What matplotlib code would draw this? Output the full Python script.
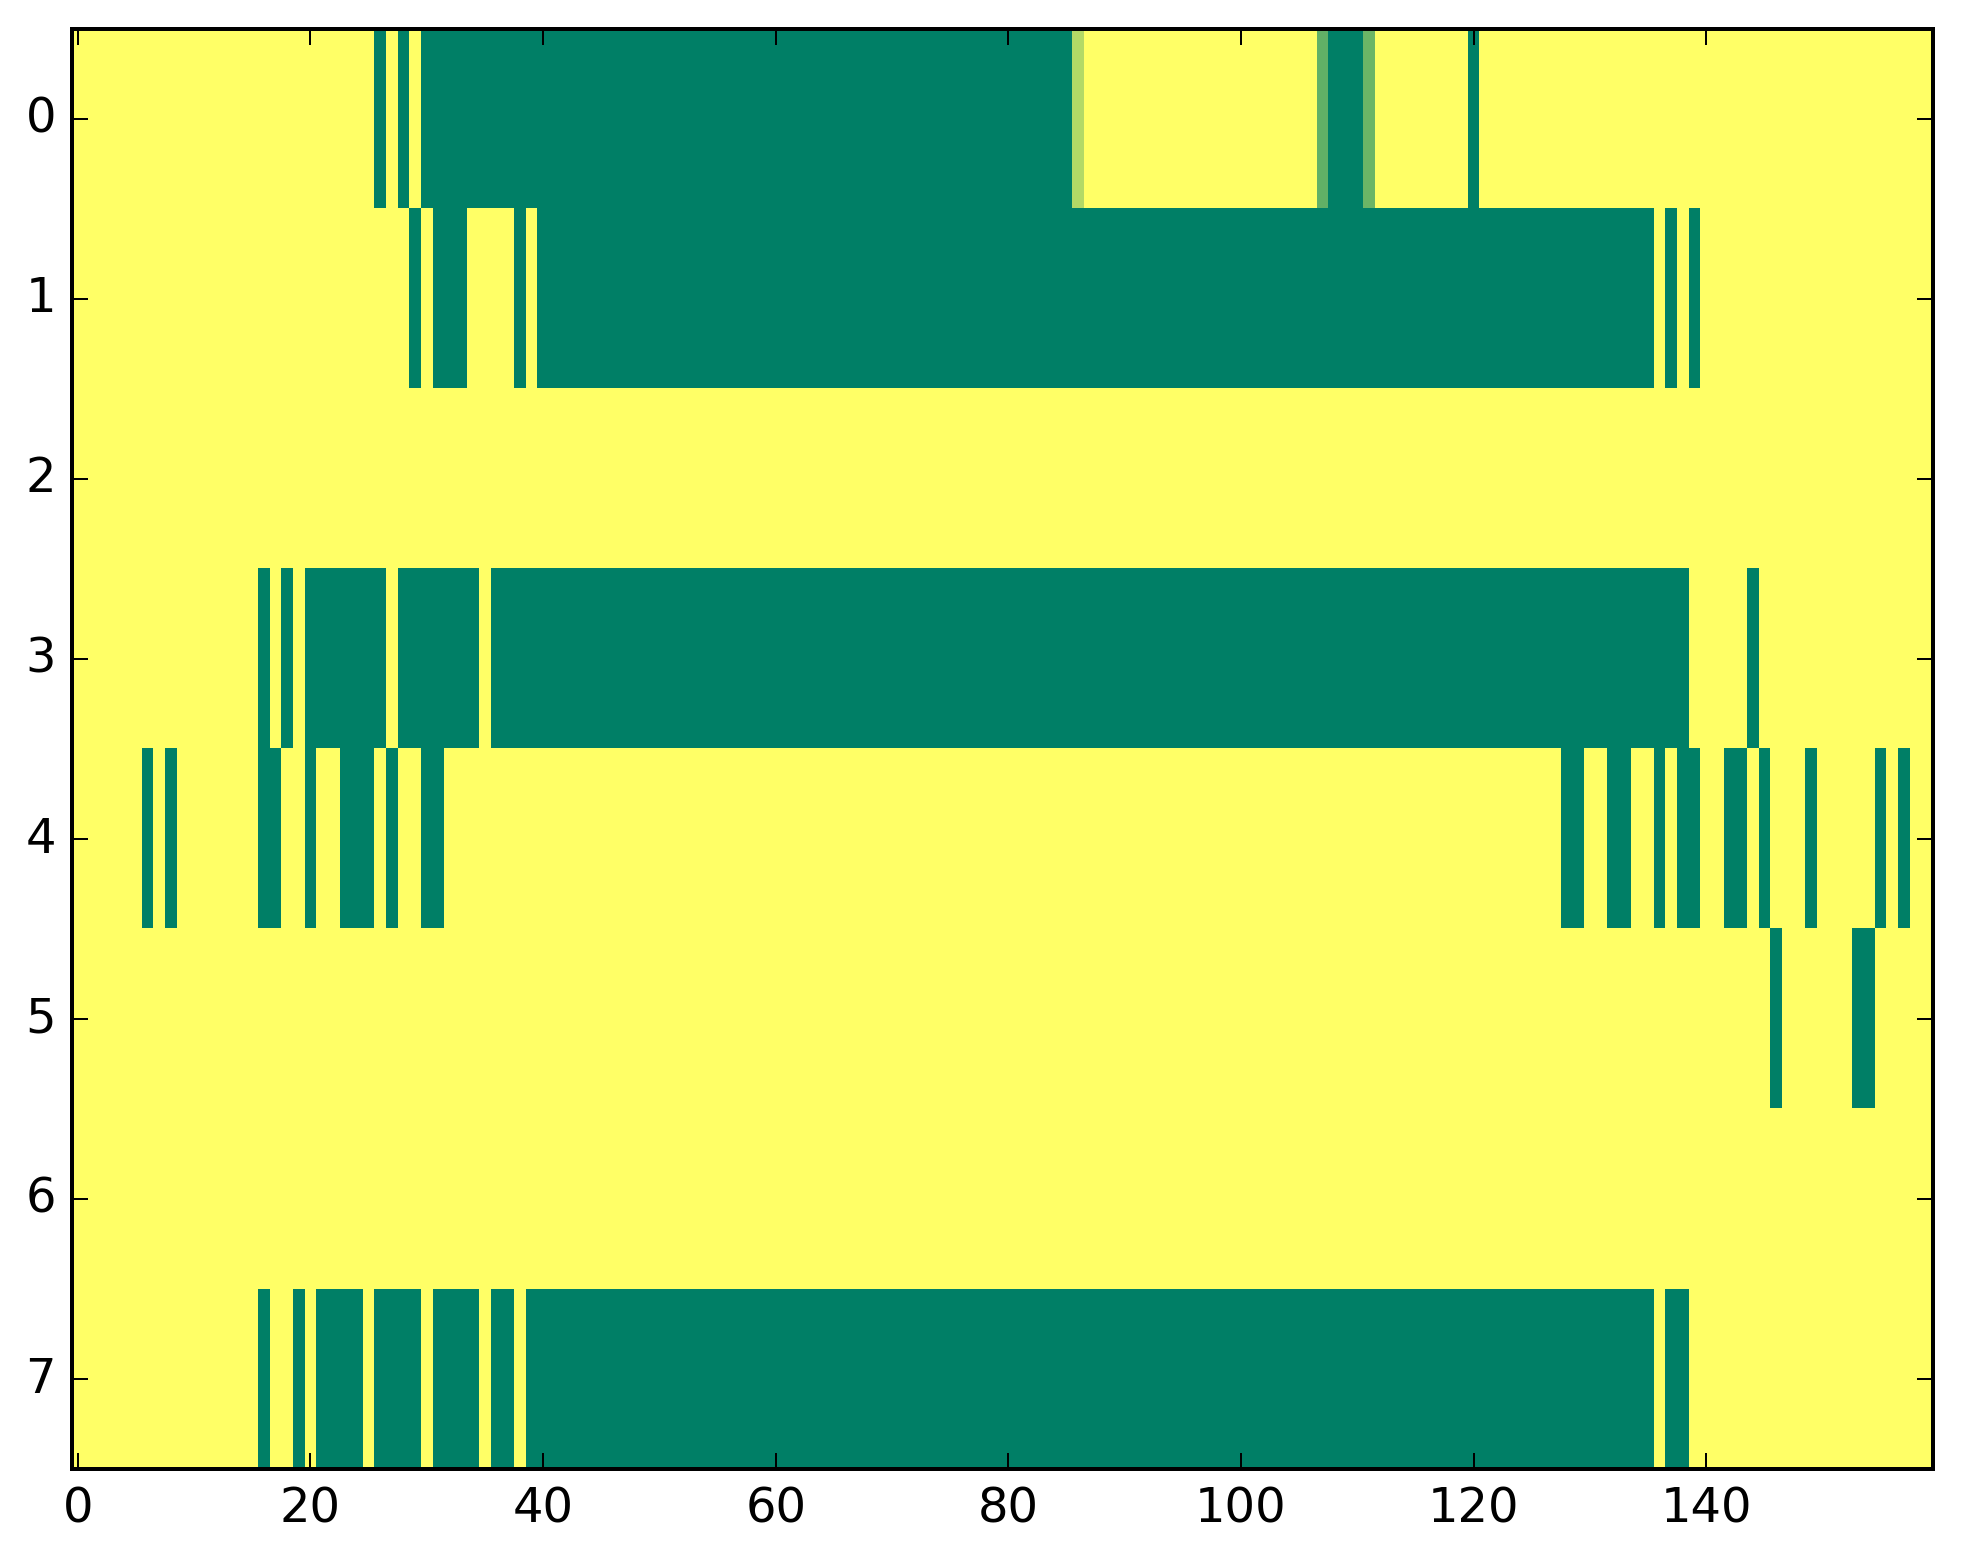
import numpy as np
import matplotlib
matplotlib.use('Agg')
import matplotlib.pyplot as plt

plt.style.use('classic')

n_rows = 8
n_cols = 160

# green (value 0) column runs per row, (first, last) inclusive
row_runs = [
    [(26, 26), (28, 28), (30, 85), (108, 110), (120, 120)],
    [(29, 29), (31, 33), (38, 38), (40, 135), (137, 137), (139, 139)],
    [],
    [(16, 16), (18, 18), (20, 26), (28, 34), (36, 138), (144, 144)],
    [(6, 6), (8, 8), (16, 17), (20, 20), (23, 25), (27, 27), (30, 31),
     (128, 129), (132, 133), (136, 136), (138, 139), (142, 143), (145, 145),
     (149, 149), (155, 155), (157, 157)],
    [(146, 146), (153, 154)],
    [],
    [(16, 16), (19, 19), (21, 24), (26, 29), (31, 34), (36, 37), (39, 135),
     (137, 138)],
]

# cells with in-between values (row, col, value)
partial_cells = [(0, 86, 0.70), (0, 107, 0.38), (0, 111, 0.42)]

data = np.ones((n_rows, n_cols))
for r, runs in enumerate(row_runs):
    for a, b in runs:
        data[r, a:b + 1] = 0.0
for r, c, v in partial_cells:
    data[r, c] = v

fig = plt.figure(figsize=(1963 / 288, 1564 / 288), dpi=288)
ax = fig.add_axes([0.0367, 0.0607, 0.9480, 0.9208])
ax.imshow(data, cmap='summer', vmin=0, vmax=1, aspect='auto',
          interpolation='nearest')
ax.set_xlim(-0.5, n_cols - 0.5)
ax.set_ylim(n_rows - 0.5, -0.5)
ax.set_yticks(range(n_rows))
ax.set_xticks(range(0, 141, 20))

fig.savefig('out.png', dpi=288)
